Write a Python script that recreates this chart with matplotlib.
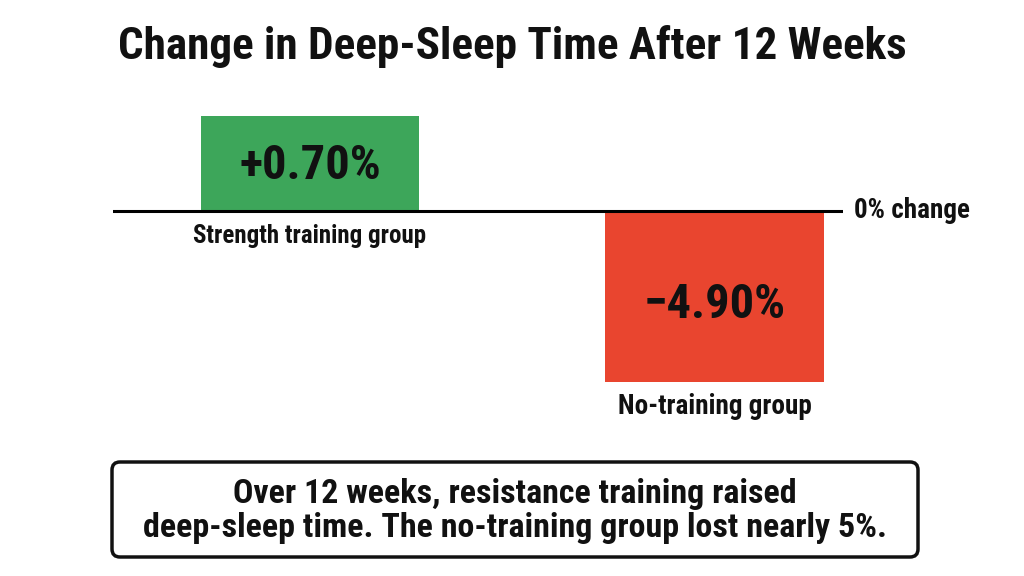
import numpy as np
import matplotlib
matplotlib.use("Agg")
import matplotlib.pyplot as plt
from matplotlib.patches import FancyBboxPatch

# data
groups = ["Strength training group", "No-training group"]
changes = [0.70, -4.90]
value_labels = ["+0.70%", "\u22124.90%"]
bar_colors = ["#3DA65A", "#E9452F"]
group_sizes = [18, 19.5]
title = "Change in Deep-Sleep Time After 12 Weeks"
note = ("Over 12 weeks, resistance training raised\n"
        "deep-sleep time. The no-training group lost nearly 5%.")

plt.rcParams["font.family"] = ["Roboto Condensed", "IBM Plex Sans Condensed",
                               "DejaVu Sans"]
plt.rcParams["font.weight"] = "bold"

# compressed (signed power) scale so the small bar stays readable
P = 0.3


def fwd(v):
    v = np.asarray(v, dtype=float)
    return np.sign(v) * np.abs(v) ** P


def inv(v):
    v = np.asarray(v, dtype=float)
    return np.sign(v) * np.abs(v) ** (1 / P)


fig = plt.figure(figsize=(10.24, 5.76), dpi=100)

# axes in pixel layout: x 113..843, y 105..395 (from top)
W, H = 1024, 576
ax = fig.add_axes([113 / W, (H - 395) / H, (843 - 113) / W, (395 - 105) / H])
ax.set_yscale("function", functions=(fwd, inv))
ax.set_ylim(float(inv(-1.736)), 1.0)
ax.set_xlim(-0.487, 1.318)

x = np.arange(len(groups))
ax.bar(x, changes, width=0.54, color=bar_colors, zorder=2)
ax.axhline(0, color="black", lw=2.2, zorder=3)

for xi, v, lab in zip(x, changes, value_labels):
    mid = float(inv(fwd(v) / 2))
    ax.annotate(lab, (xi, mid), xytext=(0, -2 if v >= 0 else -6),
                textcoords="offset points", ha="center", va="center",
                fontsize=35, fontweight="bold", color="#111111")

# category labels: under the baseline for the positive bar, under the bar for the negative one
for xi, v, g, fs in zip(x, changes, groups, group_sizes):
    anchor = 0 if v >= 0 else v
    ax.annotate(g, (xi, anchor), xytext=(0, -18), textcoords="offset points",
                ha="center", va="center", fontsize=fs, fontweight="bold",
                color="#111111")

ax.annotate("0% change", (1, 0), xycoords=("axes fraction", "data"),
            xytext=(8, 0), textcoords="offset points", ha="left", va="center",
            fontsize=19.5, fontweight="bold", color="#111111")

ax.axis("off")

fig.text(0.5, 1 - 46 / H, title, ha="center", va="center", fontsize=32.5,
         fontweight="bold", color="#111111")

# summary box
bax = fig.add_axes([0, 0, 1, 1], zorder=-1)
bax.set_xlim(0, W)
bax.set_ylim(H, 0)
bax.axis("off")
box = FancyBboxPatch((112, 462), 806, 95,
                     boxstyle="round,pad=0,rounding_size=8",
                     fc="white", ec="#111111", lw=2.5)
bax.add_patch(box)
bax.text(515, 511, note, ha="center", va="center", fontsize=24.5,
         fontweight="bold", color="#111111", linespacing=1.05)

fig.savefig("out.png", dpi=100, facecolor="white")
